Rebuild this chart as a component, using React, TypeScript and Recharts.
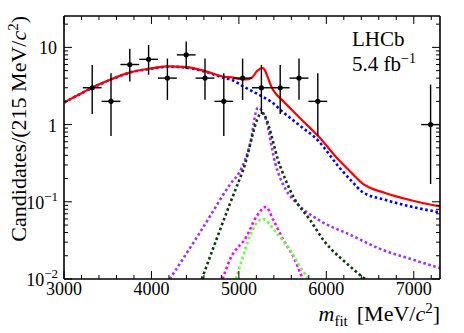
import React from 'react';
import { ComposedChart, Line, Scatter, XAxis, YAxis, ErrorBar } from 'recharts';

const FONT = "'Liberation Serif', 'Times New Roman', serif";

// Data points (bin centres, 215 MeV bins from 3000 to 7300)
const binCenters = [3322.5, 3537.5, 3752.5, 3967.5, 4182.5, 4397.5, 4612.5, 4827.5, 5042.5, 5257.5, 5472.5, 5687.5, 5902.5, 7192.5];
const counts = [3, 2, 6, 7, 4, 8, 4, 2, 4, 3, 3, 4, 2, 1];
const errLow = [1.63, 1.29, 2.38, 2.58, 1.91, 2.77, 1.91, 1.29, 1.91, 1.63, 1.63, 1.91, 1.29, 0.83];
const errHigh = [2.92, 2.64, 3.58, 3.77, 3.16, 3.94, 3.16, 2.64, 3.16, 2.92, 2.92, 3.16, 2.64, 2.30];
const binHalfWidth = 107.5;

// Total fit (red)
const totalMass = [3000, 3200, 3325, 3500, 3755, 4000, 4195, 4400, 4625, 4840, 4918, 5000, 5080, 5148, 5205, 5245, 5274, 5300, 5320, 5377, 5430, 5492, 5683, 5912, 6141, 6300, 6408, 6674, 6980, 7300];
const totalVal = [1.94, 2.55, 3.03, 3.7, 4.74, 5.35, 5.67, 5.55, 4.89, 4.14, 4.08, 3.9, 3.85, 4.05, 4.9, 5.3, 5.4, 5.0, 4.4, 3.0, 2.45, 2.09, 1.26, 0.7, 0.35, 0.23, 0.175, 0.13, 0.104, 0.087];

// Combinatorial background (blue)
const bkgMass = [3000, 3200, 3325, 3500, 3755, 4000, 4195, 4400, 4625, 4840, 4918, 5050, 5150, 5263, 5377, 5492, 5683, 5912, 6141, 6300, 6408, 6674, 6980, 7300];
const bkgVal = [1.93, 2.54, 3.0, 3.68, 4.72, 5.3, 5.62, 5.48, 4.8, 4.0, 3.8, 3.13, 2.72, 2.32, 1.95, 1.49, 1.0, 0.61, 0.285, 0.18, 0.135, 0.106, 0.086, 0.073];

// Component A (violet)
const violetMass = [4210, 4553, 4897, 5034, 5126, 5217, 5309, 5415, 5538, 5660, 5927, 6270, 6636, 6957, 7300];
const violetVal = [0.01, 0.0398, 0.167, 0.277, 0.55, 1.66, 1.16, 0.318, 0.143, 0.0964, 0.0569, 0.0375, 0.024, 0.0183, 0.0138];

// Component B (dark green)
const dgreenMass = [4576, 4897, 5049, 5263, 5472, 5621, 5812, 5964, 6270, 6442];
const dgreenVal = [0.01, 0.094, 0.26, 1.41, 0.288, 0.117, 0.0586, 0.0323, 0.0146, 0.01];

// Component C (magenta)
const magentaMass = [4813, 4897, 5088, 5202, 5309, 5392, 5507, 5621, 5730];
const magentaVal = [0.01, 0.0178, 0.0356, 0.0647, 0.0857, 0.0586, 0.0323, 0.0196, 0.01];

// Component D (light green)
const lgreenMass = [4965, 5011, 5126, 5202, 5271, 5431, 5583, 5698, 5793];
const lgreenVal = [0.01, 0.0146, 0.0356, 0.0531, 0.0598, 0.0394, 0.024, 0.0146, 0.01];

const xTicks = [3000, 3200, 3400, 3600, 3800, 4000, 4200, 4400, 4600, 4800, 5000, 5200, 5400, 5600, 5800, 6000, 6200, 6400, 6600, 6800, 7000, 7200];
const yTicks = [
  0.01, 0.02, 0.03, 0.04, 0.05, 0.06, 0.07, 0.08, 0.09,
  0.1, 0.2, 0.3, 0.4, 0.5, 0.6, 0.7, 0.8, 0.9,
  1, 2, 3, 4, 5, 6, 7, 8, 9,
  10, 20,
];
const xDomain = [3000, 7300];
const yDomain = [0.01, 25.5];

const toSeries = (ms: number[], vs: number[]) => ms.map((m, i) => ({ m, v: vs[i] }));
const points = binCenters.map((m, i) => ({ m, v: counts[i], ex: binHalfWidth, ey: [errLow[i], errHigh[i]] }));

const isMajorX = (v: number) => v % 1000 === 0;
const isMajorY = (v: number) => {
  const l = Math.log10(v);
  return Math.abs(l - Math.round(l)) < 1e-6;
};

const XTickBottom = (props: any) => {
  const { x, y, payload } = props;
  const v = payload.value;
  const major = isMajorX(v);
  return (
    <g>
      <line x1={x} x2={x} y1={y} y2={y - (major ? 8 : 4)} stroke="#000" strokeWidth={1} />
      {major && (
        <text x={x} y={y + 16} textAnchor="middle" fontSize={18} fontFamily={FONT} fill="#000">
          {v}
        </text>
      )}
    </g>
  );
};

const XTickTop = (props: any) => {
  const { x, y, payload } = props;
  const major = isMajorX(payload.value);
  return <line x1={x} x2={x} y1={y} y2={y + (major ? 8 : 4)} stroke="#000" strokeWidth={1} />;
};

const YTickLeft = (props: any) => {
  const { x, y, payload } = props;
  const v = payload.value;
  const major = isMajorY(v);
  let label: any = null;
  if (major) {
    if (v >= 1) {
      label = (
        <text x={x - 7} y={y + 7} textAnchor="end" fontSize={18} fontFamily={FONT} fill="#000">
          {String(v)}
        </text>
      );
    } else {
      const e = Math.round(Math.log10(v));
      label = (
        <text x={x - 6} y={y + 7} textAnchor="end" fontSize={18} fontFamily={FONT} fill="#000">
          10<tspan dy={-8} fontSize={13}>{'\u2212' + String(-e)}</tspan>
        </text>
      );
    }
  }
  return (
    <g>
      <line x1={x} x2={x + (major ? 8 : 4)} y1={y} y2={y} stroke="#000" strokeWidth={1} />
      {label}
    </g>
  );
};

const YTickRight = (props: any) => {
  const { x, y, payload } = props;
  const major = isMajorY(payload.value);
  return <line x1={x} x2={x - (major ? 8 : 4)} y1={y} y2={y} stroke="#000" strokeWidth={1} />;
};

const Dot = (props: any) => {
  const { cx, cy } = props;
  return <circle cx={cx} cy={cy} r={2.6} fill="#000" />;
};

const dotted = { strokeWidth: 2.6, strokeDasharray: '2.6 2.6' };

export default function App() {
  return (
    <div style={{ position: 'absolute', left: 0, top: 0, width: 464, height: 333, background: '#fff' }}>
      <ComposedChart width={464} height={333} margin={{ top: 15, right: 23, bottom: 0, left: 0 }}>
        <XAxis
          xAxisId={0}
          dataKey="m"
          type="number"
          domain={xDomain}
          allowDataOverflow
          ticks={xTicks}
          interval={0}
          height={54}
          tickSize={0}
          tickMargin={0}
          tickLine={false}
          axisLine={{ stroke: '#000', strokeWidth: 1.6 }}
          tick={XTickBottom}
        />
        <XAxis
          xAxisId="top"
          orientation="top"
          dataKey="m"
          type="number"
          domain={xDomain}
          allowDataOverflow
          ticks={xTicks}
          interval={0}
          height={1}
          tickSize={0}
          tickMargin={0}
          tickLine={false}
          axisLine={{ stroke: '#000', strokeWidth: 1.6 }}
          tick={XTickTop}
        />
        <YAxis
          yAxisId={0}
          type="number"
          scale="log"
          domain={yDomain}
          allowDataOverflow
          ticks={yTicks}
          interval={0}
          width={64}
          tickSize={0}
          tickMargin={0}
          tickLine={false}
          axisLine={{ stroke: '#000', strokeWidth: 1.6 }}
          tick={YTickLeft}
        />
        <YAxis
          yAxisId="right"
          orientation="right"
          type="number"
          scale="log"
          domain={yDomain}
          allowDataOverflow
          ticks={yTicks}
          interval={0}
          width={1}
          tickSize={0}
          tickMargin={0}
          tickLine={false}
          axisLine={{ stroke: '#000', strokeWidth: 1.6 }}
          tick={YTickRight}
        />
        <Line data={toSeries(violetMass, violetVal)} dataKey="v" type="monotone" stroke="#9933ff" {...dotted} dot={false} isAnimationActive={false} />
        <Line data={toSeries(dgreenMass, dgreenVal)} dataKey="v" type="monotone" stroke="#0a3a0a" {...dotted} dot={false} isAnimationActive={false} />
        <Line data={toSeries(magentaMass, magentaVal)} dataKey="v" type="monotone" stroke="#ff00ff" {...dotted} dot={false} isAnimationActive={false} />
        <Line data={toSeries(lgreenMass, lgreenVal)} dataKey="v" type="monotone" stroke="#66ff33" {...dotted} dot={false} isAnimationActive={false} />
        <Line data={toSeries(bkgMass, bkgVal)} dataKey="v" type="monotone" stroke="#0000ff" {...dotted} dot={false} isAnimationActive={false} />
        <Line data={toSeries(totalMass, totalVal)} dataKey="v" type="monotone" stroke="#ff0000" strokeWidth={2.2} dot={false} isAnimationActive={false} />
        <Scatter data={points} dataKey="v" shape={Dot} isAnimationActive={false}>
          <ErrorBar dataKey="ey" direction="y" width={0} stroke="#000" strokeWidth={1.4} isAnimationActive={false} />
          <ErrorBar dataKey="ex" direction="x" width={0} stroke="#000" strokeWidth={1.4} isAnimationActive={false} />
        </Scatter>
      </ComposedChart>
      <svg width={464} height={333} style={{ position: 'absolute', left: 0, top: 0, pointerEvents: 'none' }}>
        <text transform="translate(26,16) rotate(-90)" textAnchor="end" fontSize={22} fontFamily={FONT} fill="#000">
          Candidates/(215 MeV/<tspan fontStyle="italic">c</tspan>
          <tspan dy={-8} fontSize={15}>2</tspan>
          <tspan dy={8}>)</tspan>
        </text>
        <text x={440} y={321} textAnchor="end" fontSize={22} fontFamily={FONT} fill="#000">
          <tspan fontStyle="italic">m</tspan>
          <tspan fontSize={15} dy={5}>fit</tspan>
          <tspan dy={-5} dx={9}>[MeV/</tspan>
          <tspan fontStyle="italic">c</tspan>
          <tspan fontSize={15} dy={-8}>2</tspan>
          <tspan dy={8}>]</tspan>
        </text>
        <text x={352} y={46} fontSize={21} fontFamily={FONT} fill="#000">LHCb</text>
        <text x={352} y={71} fontSize={21} fontFamily={FONT} fill="#000">
          5.4 fb<tspan dy={-8} fontSize={14}>{'\u22121'}</tspan>
        </text>
      </svg>
    </div>
  );
}
